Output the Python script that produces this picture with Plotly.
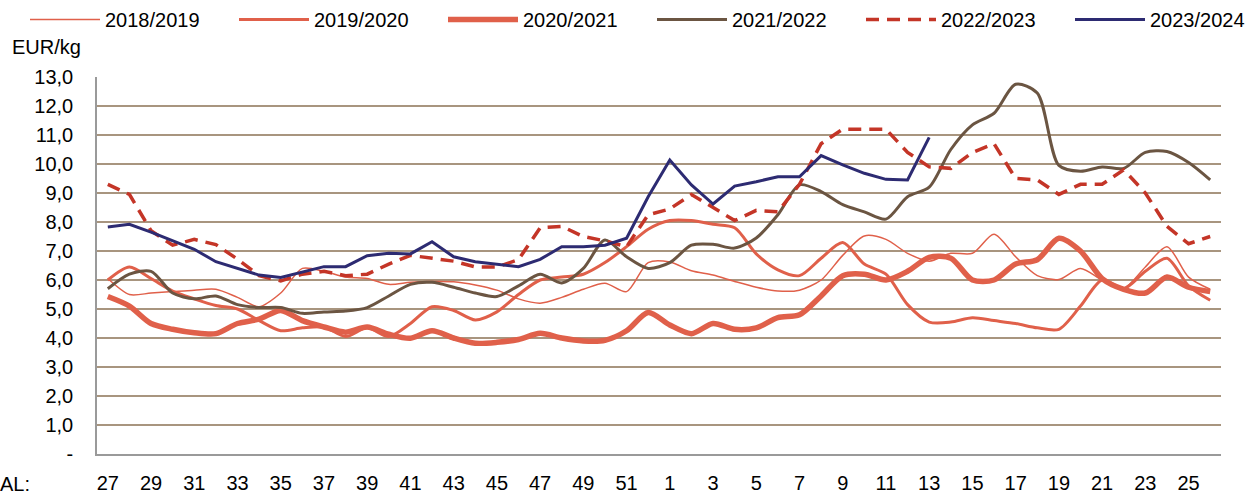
import plotly.graph_objects as go

weeks = [str(w) for w in list(range(27, 53)) + list(range(1, 27))]

s_1819 = [6.05, 5.5, 5.55, 5.6, 5.65, 5.68, 5.4, 5.08, 5.55, 6.4, 6.3, 6.1, 6.05,
          5.85, 5.92, 5.95, 5.94, 5.83, 5.65, 5.35, 5.2, 5.4, 5.68, 5.89, 5.6, 6.6,
          6.62, 6.32, 6.17, 5.95, 5.75, 5.62, 5.65, 6.0, 6.85, 7.52, 7.4, 6.92, 6.65,
          6.92, 6.92, 7.58, 6.8, 6.15, 6.02, 6.4, 6.0, 5.72, 6.45, 7.15, 6.1, 5.68]
s_1920 = [6.0, 6.45, 6.05, 5.62, 5.35, 5.12, 5.0, 4.6, 4.25, 4.35, 4.38, 4.05, 4.35,
          4.05, 4.5, 5.08, 4.95, 4.62, 4.9, 5.5, 6.0, 6.1, 6.2, 6.6, 7.15, 7.75,
          8.05, 8.05, 7.92, 7.8, 6.9, 6.35, 6.15, 6.75, 7.29, 6.55, 6.2, 5.15, 4.55,
          4.55, 4.7, 4.6, 4.5, 4.35, 4.3, 5.1, 6.0, 5.7, 6.3, 6.75, 5.8, 5.3]
s_2021 = [5.43, 5.1, 4.5, 4.3, 4.18, 4.15, 4.5, 4.65, 4.95, 4.6, 4.38, 4.2, 4.38,
          4.13, 3.99, 4.25, 4.0, 3.82, 3.85, 3.95, 4.16, 4.0, 3.9, 3.92, 4.25, 4.88,
          4.45, 4.15, 4.5, 4.3, 4.35, 4.7, 4.8, 5.45, 6.15, 6.2, 6.0, 6.3, 6.78,
          6.75, 6.0, 6.0, 6.55, 6.7, 7.44, 7.0, 6.05, 5.68, 5.55, 6.1, 5.75, 5.6]
s_2122 = [5.7, 6.2, 6.3, 5.55, 5.35, 5.45, 5.15, 5.05, 5.05, 4.85, 4.9, 4.93, 5.05,
          5.45, 5.85, 5.92, 5.75, 5.55, 5.43, 5.8, 6.2, 5.9, 6.4, 7.38, 6.8, 6.4,
          6.6, 7.2, 7.23, 7.1, 7.45, 8.25, 9.28, 9.05, 8.6, 8.35, 8.1, 8.87, 9.2,
          10.5, 11.35, 11.75, 12.75, 12.45, 9.95, 9.75, 9.9, 9.85, 10.4, 10.43, 10.05, 9.45]
s_2223 = [9.3, 8.95, 7.7, 7.2, 7.4, 7.22, 6.72, 6.15, 5.97, 6.2, 6.3, 6.15, 6.2,
          6.55, 6.85, 6.75, 6.65, 6.45, 6.45, 6.7, 7.8, 7.85, 7.5, 7.35, 7.15, 8.25,
          8.45, 8.95, 8.5, 8.05, 8.4, 8.35, 9.3, 10.7, 11.2, 11.2, 11.2, 10.4, 9.9,
          9.85, 10.4, 10.7, 9.5, 9.45, 8.95, 9.3, 9.3, 9.8, 9.0, 7.85, 7.25, 7.5]
s_2324 = [7.83, 7.92, 7.65, 7.35, 7.06, 6.63, 6.4, 6.17, 6.09, 6.27, 6.46, 6.46, 6.84,
          6.92, 6.9, 7.32, 6.8, 6.63, 6.55, 6.46, 6.71, 7.15, 7.15, 7.2, 7.44, 8.87,
          10.14, 9.28, 8.62, 9.24, 9.39, 9.56, 9.56, 10.29, 9.97, 9.68, 9.47, 9.45, 10.92]

tick_weeks = [str(w) for w in list(range(27, 53, 2)) + list(range(1, 27, 2))]
y_vals = list(range(0, 14))
y_text = ["-"] + [f"{v},0" for v in range(1, 14)]

RED = "#E0604A"
DASH = "#C43527"
BROWN = "#6B5542"
NAVY = "#2D2B72"
GRID = "#A8957F"
FONT = "Liberation Sans, Arial, sans-serif"

fig = go.Figure()
fig.add_trace(go.Scatter(x=weeks, y=s_1819, name="2018/2019", mode="lines",
                         line=dict(color=RED, width=1.5, shape="spline", smoothing=0.8)))
fig.add_trace(go.Scatter(x=weeks, y=s_1920, name="2019/2020", mode="lines",
                         line=dict(color=RED, width=3, shape="spline", smoothing=0.8)))
fig.add_trace(go.Scatter(x=weeks, y=s_2021, name="2020/2021", mode="lines",
                         line=dict(color=RED, width=5.5, shape="spline", smoothing=0.8)))
fig.add_trace(go.Scatter(x=weeks, y=s_2122, name="2021/2022", mode="lines",
                         line=dict(color=BROWN, width=3, shape="spline", smoothing=0.8)))
fig.add_trace(go.Scatter(x=weeks, y=s_2223, name="2022/2023", mode="lines",
                         line=dict(color=DASH, width=3.5, dash="13px,8px")))
fig.add_trace(go.Scatter(x=weeks[:len(s_2324)], y=s_2324, name="2023/2024", mode="lines",
                         line=dict(color=NAVY, width=3), legend="legend2"))

legend_common = dict(orientation="h", xref="container", y=1.0, yref="container",
                     xanchor="left", yanchor="top", itemwidth=70, entrywidth=124,
                     font=dict(size=20), bgcolor="rgba(0,0,0,0)", traceorder="normal")

fig.update_layout(
    width=1253, height=495,
    margin=dict(l=97, r=32, t=77, b=41, autoexpand=False),
    paper_bgcolor="white", plot_bgcolor="white",
    font=dict(family=FONT, size=20, color="#000000"),
    showlegend=True,
    legend=dict(x=25 / 1253, **legend_common),
    legend2=dict(x=(25 + 5 * 209) / 1253, **legend_common),
    xaxis=dict(type="category", categoryorder="array", categoryarray=weeks,
               tickmode="array", tickvals=tick_weeks, ticktext=tick_weeks,
               showgrid=False, showline=True, linecolor="#9A9A9A", linewidth=1.5,
               ticks="", ticklabelstandoff=10, range=[-0.5, 51.5],
               tickfont=dict(size=20)),
    yaxis=dict(range=[0, 13], tickmode="array", tickvals=y_vals, ticktext=y_text,
               showgrid=True, gridcolor=GRID, gridwidth=1.5,
               showline=True, linecolor="#9A9A9A", linewidth=1.5,
               zeroline=False, ticks="", ticklabelstandoff=18,
               tickfont=dict(size=20)),
    annotations=[
        dict(text="EUR/kg", xref="paper", yref="paper", x=(10 - 97) / 1124,
             y=(454 - 47) / 377, xanchor="left", yanchor="middle", showarrow=False,
             font=dict(size=20)),
        dict(text="AL:", xref="paper", yref="paper", x=(-2 - 97) / 1124,
             y=(454 - 484) / 377, xanchor="left", yanchor="middle", showarrow=False,
             font=dict(size=20)),
    ],
)

fig.write_html("out.html", config={"displayModeBar": False},
               post_script="document.body.style.margin='0';")
